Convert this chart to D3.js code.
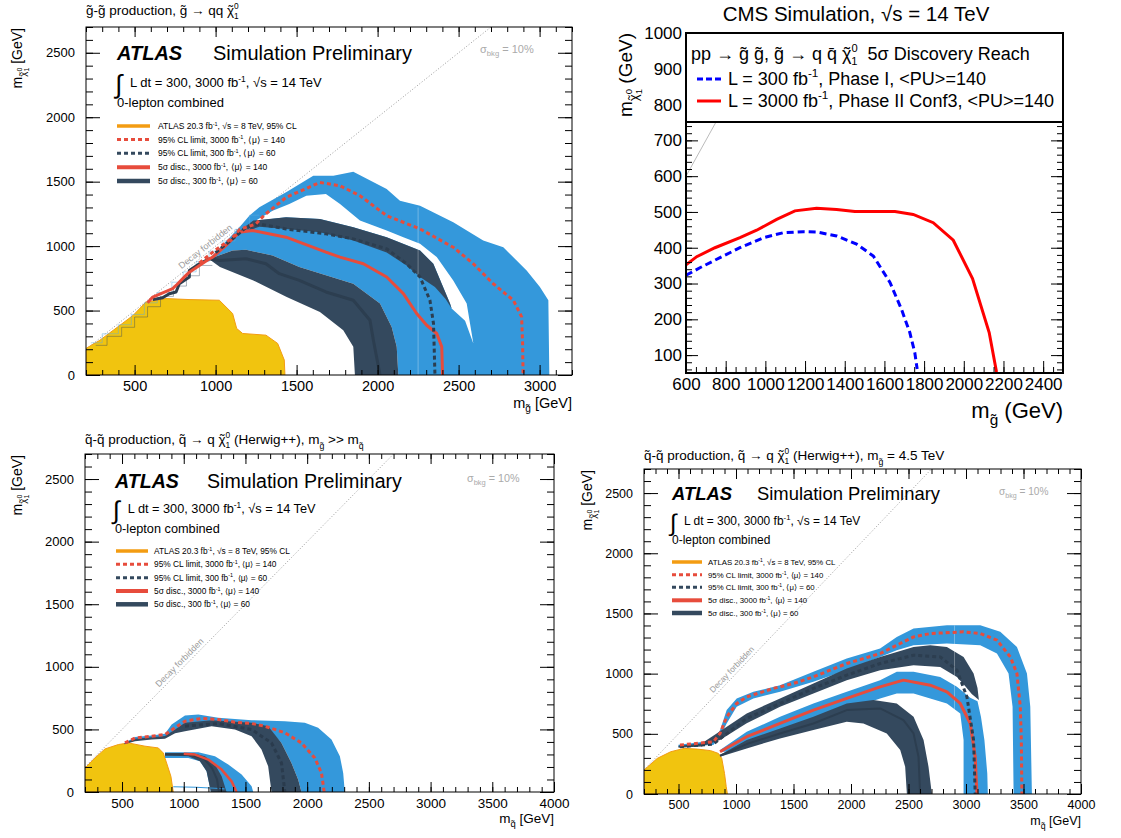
<!DOCTYPE html>
<html>
<head>
<meta charset="utf-8">
<script src="https://cdn.jsdelivr.net/npm/d3@7"></script>
<style>
  body { margin: 0; background: #fff; }
  svg { display: block; }
  text { font-family: "Liberation Sans", Arial, Helvetica, sans-serif; }
</style>
</head>
<body>
<svg id="chart" width="1121" height="838"></svg>
<script>
// ---------- top-left: gluino pair production (ATLAS) ----------
const tlXTicks = [500, 1000, 1500, 2000, 2500, 3000]
const tlYTicks = [0, 500, 1000, 1500, 2000, 2500]
const tlYellow = [[200,0],[200,206],[286,270],[410,386],[492,464],[570,566],[694,593],[842,585],[1023,580],[1105,477],[1130,361],[1167,322],[1311,309],[1383,245],[1424,116],[1428,0]]
const tlBlueUpper = [[1150,1150],[1208,1236],[1270,1301],[1435,1417],[1603,1546],[1727,1546],[1850,1577],[2056,1443],[2138,1352],[2262,1314],[2467,1185],[2652,1043],[2776,991],[2920,811],[3002,682],[3054,580],[3060,0]]
const tlNavy5Upper = [[960,900],[1105,966],[1188,971],[1352,927],[1517,837],[1681,773],[1850,708],[2015,554],[2087,373],[2118,219],[2128,0]]
const tlNavy5Lower = [[980,880],[1027,837],[1233,734],[1439,605],[1644,489],[1788,348],[1850,219],[1860,0]]
const tlGap = [[1249,1198],[1352,1275],[1455,1327],[1560,1390],[1681,1404],[1768,1327],[1891,1198],[2056,1121],[2159,1069],[2262,1018],[2365,915],[2467,734],[2550,554],[2591,245],[2540,420],[2457,515],[2447,554],[2344,863],[2262,966],[2056,1069],[1850,1146],[1644,1211],[1435,1223],[1300,1205]]
const tlNavy95Upper = [[1150,1121],[1233,1198],[1435,1223],[1644,1211],[1850,1146],[2056,1069],[2262,966],[2344,863],[2447,554],[2457,515]]
const tlNavy95Lower = [[1130,1090],[1270,1150],[1435,1133],[1644,1108],[1850,1043],[2056,950],[2179,850],[2262,760],[2354,682],[2420,590],[2457,515]]
const tlStepBlue = [[230,250],[300,250],[300,320],[400,320],[400,390],[480,390],[480,470],[560,470],[560,560],[640,560],[640,640],[730,640],[730,720],[800,720],[800,800],[880,800],[880,880],[960,880],[960,960],[1040,960],[1040,1040],[1120,1040],[1120,1130],[1210,1130],[1210,1240],[1270,1240]]
const tlStepNavy = [[260,230],[330,230],[330,300],[420,300],[420,370],[500,370],[500,450],[580,450],[580,530],[660,530],[660,610],[740,610],[740,690],[820,690],[820,770],[900,770],[900,850],[980,850]]
const tlRedDash = [[900,870],[1000,970],[1100,1060],[1150,1130],[1249,1172],[1300,1240],[1435,1378],[1644,1494],[1768,1468],[1891,1391],[2056,1236],[2262,1133],[2467,991],[2591,863],[2714,708],[2838,580],[2889,451],[2895,245],[2898,0]]
const tlNavyDash = [[1000,950],[1105,1056],[1188,1146],[1270,1172],[1435,1133],[1681,1095],[1850,1056],[2056,979],[2179,863],[2262,760],[2323,580],[2345,400],[2354,0]]
const tlRedSolid = [[580,560],[612,605],[735,670],[760,700],[817,773],[840,800],[960,900],[982,915],[1064,1005],[1146,1108],[1229,1121],[1435,1069],[1681,953],[1768,915],[1912,863],[2056,760],[2159,631],[2241,477],[2303,386],[2365,322],[2396,219],[2401,0]]
const tlNavySolid = [[612,585],[673,600],[714,631],[756,644],[776,708],[838,760],[838,811],[900,863],[961,902],[1023,889],[1188,902],[1311,863],[1393,786],[1517,734],[1681,644],[1850,580],[1953,425],[1974,270],[2015,0]]
const tlSeam = [[2250,0],[2250,1300]]

// ---------- bottom-left: squark pair, decoupled gluino ----------
const sqXTicks = [500, 1000, 1500, 2000, 2500, 3000, 3500, 4000]
const sqYTicks = [0, 500, 1000, 1500, 2000, 2500]
const blYellow = [[200,0],[200,192],[281,272],[362,344],[470,379],[551,392],[686,366],[794,352],[834,312],[861,232],[896,125],[915,0]]
const blBlue95Upper = [[520,392],[605,440],[740,452],[848,465],[902,539],[1010,611],[1118,619],[1280,593],[1550,574],[1819,566],[1981,553],[2089,513],[2197,419],[2265,286],[2292,152],[2305,0]]
const blBlue95Lower = [[520,385],[605,415],[740,428],[848,436],[930,486],[1010,530],[1226,560],[1550,540],[1684,510],[1792,392],[1873,232],[1927,99],[1954,0]]
const blNavy95Upper = [[520,390],[605,425],[740,437],[848,447],[930,500],[1010,553],[1226,574],[1550,553],[1684,526],[1792,392],[1873,232],[1927,99],[1954,0]]
const blNavy95Lower = [[520,382],[605,405],[740,420],[848,425],[930,470],[1010,486],[1226,526],[1415,499],[1550,446],[1630,339],[1684,205],[1711,0]]
const blRedDash = [[524,392],[605,432],[740,446],[848,459],[929,513],[1010,566],[1145,587],[1280,579],[1415,558],[1550,547],[1657,526],[1819,473],[1954,392],[2062,272],[2116,152],[2138,0]]
const blNavyDash = [[1010,526],[1280,547],[1550,499],[1711,392],[1792,232],[1819,0]]
const blBlue5Upper = [[848,318],[1118,318],[1253,286],[1361,219],[1469,139],[1550,45],[1563,0]]
const blBlue5Lower = [[848,272],[1037,272],[1131,246],[1185,165],[1220,0]]
const blNavy5Upper = [[848,312],[1064,312],[1172,286],[1253,219],[1307,125],[1347,0]]
const blNavy5Lower = [[848,291],[1037,286],[1131,246],[1185,165],[1220,0]]
const blRedSolid = [[1000,305],[1091,299],[1199,259],[1307,179],[1388,85],[1428,0]]
const blNavySolid = [[848,300],[1050,300],[1160,270],[1230,190],[1270,100],[1285,0]]
const blBlueThin = [[915,42],[1100,38],[1253,30],[1330,25]]

// ---------- bottom-right: squark pair, m(gluino) = 4.5 TeV ----------
const brYellow = [[200,0],[200,199],[316,296],[432,351],[548,379],[664,373],[780,360],[847,337],[876,296],[900,171],[915,61],[925,0]]
const brBlue95Upper = [[500,410],[650,425],[800,445],[861,530],[919,697],[1006,794],[1151,849],[1383,904],[1673,1015],[1963,1126],[2253,1208],[2398,1305],[2544,1374],[2834,1402],[3124,1402],[3298,1347],[3443,1222],[3530,1001],[3559,724],[3573,0]]
const brBlue95Lower = [[500,390],[650,400],[803,407],[861,476],[919,586],[1006,724],[1151,794],[1383,849],[1673,932],[1963,1029],[2253,1139],[2398,1195],[2544,1236],[2834,1250],[3124,1236],[3269,1167],[3370,1001],[3405,724],[3414,0]]
const brNavy95Upper = [[500,400],[700,420],[832,503],[1093,669],[1383,794],[1673,918],[1963,1043],[2253,1139],[2544,1222],[2689,1236],[2834,1222],[2979,1139],[3066,1001],[3100,880],[3112,780]]
const brNavy95Lower = [[500,385],[700,395],[861,448],[1093,587],[1383,724],[1673,835],[1963,946],[2253,1029],[2544,1070],[2776,1056],[2921,973],[2990,900],[3050,830],[3112,780]]
const brRedDash = [[513,407],[803,434],[861,503],[919,641],[1006,752],[1093,807],[1325,877],[1499,918],[1673,973],[1963,1084],[2253,1167],[2398,1236],[2544,1305],[2689,1333],[2979,1347],[3124,1333],[3269,1278],[3385,1139],[3443,1001],[3472,724],[3481,448],[3486,0]]
const brNavyDash = [[513,393],[803,415],[1093,628],[1383,752],[1673,877],[1963,987],[2253,1084],[2544,1153],[2776,1139],[2921,1029],[3008,807],[3066,448],[3080,0]]
const brBlue5Upper = [[861,365],[1093,517],[1383,641],[1673,752],[1963,849],[2253,946],[2398,1015],[2544,1015],[2776,973],[2921,890],[3037,800],[3100,770],[3130,641],[3160,448],[3185,171],[3190,0]]
const brBlue5Lower = [[861,351],[919,351],[1093,434],[1383,531],[1673,614],[1963,697],[2253,794],[2398,835],[2544,835],[2834,752],[2950,669],[2979,448],[2979,0]]
const brRedSolid = [[861,351],[1093,476],[1383,586],[1673,697],[1963,794],[2253,890],[2456,946],[2689,904],[2834,849],[2950,752],[3037,586],[3080,310],[3095,0]]
const brNavy5Upper = [[861,324],[1093,448],[1383,545],[1673,641],[1963,752],[2195,780],[2398,752],[2544,641],[2631,448],[2674,227],[2703,0]]
const brNavy5Lower = [[861,310],[1093,379],[1383,462],[1673,531],[1963,600],[2108,586],[2311,503],[2428,365],[2471,227],[2486,0]]
const brNavySolid = [[861,318],[1093,415],[1383,503],[1673,586],[1963,697],[2253,711],[2456,614],[2544,503],[2587,310],[2601,0]]
const brSeam = [[2900,700],[2900,1400]]

// ---------- top-right: CMS 5 sigma discovery reach ----------
const cmsXTicks = [600, 800, 1000, 1200, 1400, 1600, 1800, 2000, 2200, 2400]
const cmsYTicks = [100, 200, 300, 400, 500, 600, 700, 800, 900, 1000]
const cmsPhase2 = [[600,352],[654,375],[746,400],[872,428],[956,449],[1057,479],[1149,503],[1258,510],[1359,507],[1451,501],[1544,501],[1653,501],[1745,493],[1846,470],[1947,421],[2044,314],[2128,163],[2165,53]]
const cmsPhase1 = [[600,323],[670,344],[788,377],[872,400],[990,428],[1090,442],[1191,445],[1258,444],[1359,433],[1460,410],[1544,377],[1628,303],[1686,228],[1728,163],[1753,107],[1765,61]]
const cmsDiagonal = [[600,600],[900,900]]

const diagonal = [[200,200],[2700,2700]]

const col = {
  yellow: '#f1c40f', orange: '#f39c12', blue: '#3498db',
  navy: '#34495e', navyDark: '#2c3e50', red: '#e74c3c', grey: '#9a9a9a'
}

const svg = d3.select('#chart')
const defs = svg.append('defs')

// rich text: segments [text, baseline offset (em), size factor, dx (em)]
function rich(sel, segs, fs) {
  let cur = 0
  segs.forEach(s => {
    const str = s[0], off = s[1] || 0, k = s[2] || 1, dx = s[3] || 0
    sel.append('tspan')
      .attr('dy', (off - cur) * fs)
      .attr('dx', dx * fs)
      .attr('font-size', fs * k)
      .text(str)
    cur = off
  })
  return sel
}
// neutralino symbol with a spacing tilde placed back over the chi
const chiSegs = [['χ'], ['˜', 0, 1, -0.42], ['0', -0.45, 0.62, 0.08], ['1', 0.3, 0.62, -0.35]]
const chiSub = [['χ', 0.3, 0.7], ['˜', 0.3, 0.7, -0.29], ['0', 0.0, 0.5, 0.06], ['1', 0.5, 0.5, -0.28]]
const fbInv = (a, b) => [[a], ['-1', -0.4, 0.65], [b, 0]]

const legendRows = [
  fbInv('ATLAS 20.3 fb', ', √s = 8 TeV, 95% CL'),
  fbInv('95% CL limit, 3000 fb', ', ⟨μ⟩ = 140'),
  fbInv('95% CL limit, 300 fb', ', ⟨μ⟩ = 60'),
  fbInv('5σ disc., 3000 fb', ', ⟨μ⟩ = 140'),
  fbInv('5σ disc., 300 fb', ', ⟨μ⟩ = 60')
]
const legendStyle = [
  { stroke: col.orange, w: 3.5 },
  { stroke: col.red, w: 3, dash: '4,3' },
  { stroke: col.navy, w: 3, dash: '4,3' },
  { stroke: col.red, w: 4 },
  { stroke: col.navy, w: 4.5 }
]

function ticks(g, axis, pos, vals, len, labels, fs, pad) {
  const a = axis.tickValues(vals).tickSize(-len).tickPadding(pad || 6)
    .tickFormat(labels ? d3.format('d') : '')
  const sel = g.append('g').attr('transform', pos).call(a)
  sel.select('.domain').remove()
  sel.selectAll('line').attr('stroke', '#000')
  sel.selectAll('text').attr('font-size', fs).attr('fill', '#000')
    .attr('font-family', '"Liberation Sans", Arial, sans-serif')
  return sel
}

function atlasPanel(p) {
  const b = p.box
  const x = d3.scaleLinear().domain(p.xDom).range([b.l, b.r])
  const y = d3.scaleLinear().domain(p.yDom).range([b.b, b.t])
  const line = d3.line().x(d => x(d[0])).y(d => y(d[1]))
  const g = svg.append('g')
  defs.append('clipPath').attr('id', 'clip-' + p.id)
    .append('rect').attr('x', b.l).attr('y', b.t).attr('width', b.r - b.l).attr('height', b.b - b.t)
  const plot = g.append('g').attr('clip-path', `url(#clip-${p.id})`)

  plot.append('path').attr('d', line(diagonal)).attr('fill', 'none')
    .attr('stroke', col.grey).attr('stroke-width', 1).attr('stroke-dasharray', '1,2')

  p.layers.forEach(L => {
    if (L.fill) {
      const pts = L.lower ? L.upper.concat(L.lower.slice().reverse()) : L.upper
      plot.append('path').attr('d', line(pts) + 'Z').attr('fill', L.fill)
        .attr('stroke', L.edge || 'none').attr('stroke-width', L.edgeW || 1)
    } else {
      plot.append('path').attr('d', line(L.pts)).attr('fill', 'none')
        .attr('stroke', L.stroke).attr('stroke-width', L.w)
        .attr('stroke-opacity', L.op || 1)
        .attr('stroke-dasharray', L.dash || null)
        .attr('stroke-linejoin', 'round')
    }
  })

  // decay forbidden label along the diagonal
  const dp = p.decayAt
  const ang = Math.atan2(y(dp + 100) - y(dp), x(dp + 100) - x(dp)) * 180 / Math.PI
  plot.append('text').attr('transform', `translate(${x(dp)},${y(dp)}) rotate(${ang})`)
    .attr('dy', -3).attr('text-anchor', 'middle').attr('font-size', 9 * p.k)
    .attr('fill', col.grey).text('Decay forbidden')

  // axes, ROOT style inward ticks
  const w = b.r - b.l, h = b.b - b.t
  const xMinor = d3.range(p.xDom[0], p.xDom[1] + 1, 100)
  const yMinor = d3.range(p.yDom[0], p.yDom[1] + 1, 100)
  ticks(g, d3.axisBottom(x), `translate(0,${b.b})`, xMinor, 5, false)
  ticks(g, d3.axisTop(x), `translate(0,${b.t})`, xMinor, 5, false)
  ticks(g, d3.axisLeft(y), `translate(${b.l},0)`, yMinor, 7, false)
  ticks(g, d3.axisRight(y), `translate(${b.r},0)`, yMinor, 7, false)
  ticks(g, d3.axisBottom(x), `translate(0,${b.b})`, p.xTicks, 10, true, p.xfs, 6)
  ticks(g, d3.axisTop(x), `translate(0,${b.t})`, p.xTicks, 10, false)
  ticks(g, d3.axisLeft(y), `translate(${b.l},0)`, p.yTicks, 14, p.yLabels, p.yfs, 11)
  ticks(g, d3.axisRight(y), `translate(${b.r},0)`, p.yTicks, 14, false)
  g.append('rect').attr('x', b.l).attr('y', b.t).attr('width', w).attr('height', h)
    .attr('fill', 'none').attr('stroke', '#000').attr('stroke-width', 1)

  // texts
  rich(g.append('text').attr('x', b.l).attr('y', p.titleY), p.title, 13.5)
  g.append('text').attr('x', p.tx).attr('y', p.atlasY).attr('font-size', 20 * p.k)
    .attr('font-weight', 'bold').attr('font-style', 'italic').text('ATLAS')
  g.append('text').attr('x', p.simX).attr('y', p.atlasY).attr('font-size', 20 * p.k)
    .text('Simulation Preliminary')
  g.append('text').attr('x', p.tx - 2).attr('y', p.lumiY + 6).attr('font-size', 26 * p.k)
    .attr('font-weight', 300).text('∫')
  rich(g.append('text').attr('x', p.tx + 13 * p.k).attr('y', p.lumiY),
    fbInv('L dt = 300, 3000 fb', ', √s = 14 TeV'), 13 * p.k)
  g.append('text').attr('x', p.tx).attr('y', p.lepY).attr('font-size', 13 * p.k).text('0-lepton combined')
  rich(g.append('text').attr('x', p.sigX).attr('y', p.sigY).attr('fill', '#aaa'),
    [['σ'], ['bkg', 0.3, 0.7], [' = 10%', 0]], 11 * p.k)

  legendRows.forEach((row, i) => {
    const ly = p.legY[i], st = legendStyle[i]
    g.append('line').attr('x1', p.legX[0]).attr('x2', p.legX[1]).attr('y1', ly).attr('y2', ly)
      .attr('stroke', st.stroke).attr('stroke-width', st.w).attr('stroke-dasharray', st.dash || null)
    rich(g.append('text').attr('x', p.legX[2]).attr('y', ly + 3), row, 8.5 * p.k)
  })

  rich(g.append('text').attr('x', b.r).attr('y', p.xLabY).attr('text-anchor', 'end'),
    [['m'], [p.xSym, 0.3, 0.7], [' [GeV]', 0]], p.xfs)
  rich(g.append('text').attr('transform', `translate(${p.yLabX},${b.t + 1}) rotate(-90)`)
    .attr('text-anchor', 'end'), [['m']].concat(chiSub).concat([[' [GeV]', 0]]), 14)
}

atlasPanel({
  id: 'tl', box: { l: 86, t: 27, r: 572, b: 375 }, xDom: [200, 3200], yDom: [0, 2700],
  xTicks: tlXTicks, yTicks: tlYTicks, yLabels: true, xfs: 14.5, yfs: 13, k: 1,
  title: [['g̃-g̃ production, g̃ → qq ']].concat(chiSegs), titleY: 15,
  tx: 117, simX: 213, atlasY: 60, lumiY: 87, lepY: 107, sigX: 480, sigY: 53,
  legX: [117, 150, 158], legY: [126, 139.5, 153.3, 167.3, 181],
  xSym: 'g̃', xLabY: 408, yLabX: 22, decayAt: 960,
  layers: [
    { upper: tlBlueUpper, lower: tlNavy5Upper, fill: col.blue },
    { upper: tlGap, fill: '#fff' },
    { upper: tlNavy95Upper, lower: tlNavy95Lower, fill: col.navy },
    { upper: tlNavy5Upper, lower: tlNavy5Lower, fill: col.navy },
    { pts: tlSeam, stroke: '#fff', w: 1, op: 0.3 },
    { upper: tlYellow, fill: col.yellow, edge: col.orange },
    { pts: tlStepBlue, stroke: '#5dade2', w: 0.6, op: 0.8 },
    { pts: tlStepNavy, stroke: col.navy, w: 0.6, op: 0.7 },
    { pts: tlNavySolid, stroke: col.navyDark, w: 3 },
    { pts: tlRedSolid, stroke: col.red, w: 3 },
    { pts: tlNavyDash, stroke: col.navyDark, w: 3, dash: '4,3' },
    { pts: tlRedDash, stroke: col.red, w: 3, dash: '4,3' }
  ]
})

atlasPanel({
  id: 'bl', box: { l: 85, t: 454, r: 554, b: 792 }, xDom: [200, 4000], yDom: [0, 2700],
  xTicks: sqXTicks, yTicks: sqYTicks, yLabels: true, xfs: 13.5, yfs: 13, k: 0.98,
  title: [['q̃-q̃ production, q̃ → q ']].concat(chiSegs).concat([[' (Herwig++), m', 0], ['g̃', 0.35, 0.65], [' >> m', 0], ['q̃', 0.35, 0.65]]),
  titleY: 444,
  tx: 115, simX: 207, atlasY: 488, lumiY: 513, lepY: 533, sigX: 467, sigY: 482,
  legX: [116, 148, 154], legY: [551, 564.3, 577.7, 591, 604.3],
  xSym: 'q̃', xLabY: 823, yLabX: 22, decayAt: 1000,
  layers: [
    { upper: blYellow, fill: col.yellow, edge: col.orange },
    { upper: blBlue95Upper, lower: blBlue95Lower, fill: col.blue },
    { upper: blNavy95Upper, lower: blNavy95Lower, fill: col.navy },
    { upper: blBlue5Upper, lower: blBlue5Lower, fill: col.blue },
    { upper: blNavy5Upper, lower: blNavy5Lower, fill: col.navy },
    { pts: blBlueThin, stroke: col.blue, w: 1.2 },
    { pts: blNavySolid, stroke: col.navyDark, w: 2 },
    { pts: blRedSolid, stroke: col.red, w: 2.5 },
    { pts: blNavyDash, stroke: '#2a3b4d', w: 3, dash: '4,3' },
    { pts: blRedDash, stroke: col.red, w: 3, dash: '4,3' }
  ]
})

atlasPanel({
  id: 'br', box: { l: 644, t: 469, r: 1081, b: 794 }, xDom: [200, 4000], yDom: [0, 2700],
  xTicks: sqXTicks, yTicks: sqYTicks, yLabels: true, xfs: 12.5, yfs: 12.5, k: 0.92,
  title: [['q̃-q̃ production, q̃ → q ']].concat(chiSegs).concat([[' (Herwig++), m', 0], ['g̃', 0.35, 0.65], [' = 4.5 TeV', 0]]),
  titleY: 460,
  tx: 672, simX: 757, atlasY: 500, lumiY: 525, lepY: 544, sigX: 999, sigY: 495,
  legX: [672, 702, 708], legY: [562, 574.7, 587.3, 600.3, 613],
  xSym: 'q̃', xLabY: 825, yLabX: 592, decayAt: 1000,
  layers: [
    { upper: brBlue95Upper, lower: brBlue95Lower, fill: col.blue },
    { upper: brBlue5Upper, lower: brBlue5Lower, fill: col.blue },
    { upper: brNavy95Upper, lower: brNavy95Lower, fill: col.navy },
    { upper: brNavy5Upper, lower: brNavy5Lower, fill: col.navy },
    { pts: brSeam, stroke: '#fff', w: 1, op: 0.3 },
    { upper: brYellow, fill: col.yellow, edge: col.orange },
    { pts: brNavySolid, stroke: col.navyDark, w: 2 },
    { pts: brRedSolid, stroke: col.red, w: 3 },
    { pts: brNavyDash, stroke: col.navyDark, w: 3, dash: '4,3' },
    { pts: brRedDash, stroke: col.red, w: 3, dash: '4,3' }
  ]
})

// ---------- CMS panel ----------
;(function () {
  const b = { l: 686, t: 33, r: 1063, b: 373 }
  const x = d3.scaleLinear().domain([600, 2500]).range([b.l, b.r])
  const y = d3.scaleLinear().domain([50, 1000]).range([b.b, b.t])
  const line = d3.line().x(d => x(d[0])).y(d => y(d[1]))
  const g = svg.append('g')
  defs.append('clipPath').attr('id', 'clip-cms')
    .append('rect').attr('x', b.l).attr('y', b.t).attr('width', b.r - b.l).attr('height', b.b - b.t)
  const plot = g.append('g').attr('clip-path', 'url(#clip-cms)')

  plot.append('path').attr('d', line(cmsDiagonal)).attr('fill', 'none').attr('stroke', '#bbb').attr('stroke-width', 1)
  plot.append('path').attr('d', line(cmsPhase1)).attr('fill', 'none').attr('stroke', '#0000ff')
    .attr('stroke-width', 3).attr('stroke-dasharray', '7,4')
  plot.append('path').attr('d', line(cmsPhase2)).attr('fill', 'none').attr('stroke', '#ff0000')
    .attr('stroke-width', 3)

  ticks(g, d3.axisBottom(x), `translate(0,${b.b})`, d3.range(600, 2501, 50), 6, false)
  ticks(g, d3.axisBottom(x), `translate(0,${b.b})`, cmsXTicks, 12, true, 17, 5)
  ticks(g, d3.axisLeft(y), `translate(${b.l},0)`, d3.range(60, 1001, 20), 6, false)
  ticks(g, d3.axisLeft(y), `translate(${b.l},0)`, cmsYTicks, 12, true, 17, 4)
  ticks(g, d3.axisRight(y), `translate(${b.r},0)`, d3.range(60, 1001, 20), 6, false)
  ticks(g, d3.axisRight(y), `translate(${b.r},0)`, cmsYTicks, 12, false)
  g.append('rect').attr('x', b.l).attr('y', b.t).attr('width', b.r - b.l).attr('height', b.b - b.t)
    .attr('fill', 'none').attr('stroke', '#000').attr('stroke-width', 2)

  // legend box
  g.append('rect').attr('x', b.l).attr('y', b.t).attr('width', b.r - b.l).attr('height', 89)
    .attr('fill', '#fff').attr('stroke', '#000').attr('stroke-width', 2)
  rich(g.append('text').attr('x', 691).attr('y', 60),
    [['pp → g̃ g̃, g̃ → q q̄ ']].concat(chiSegs).concat([['\u00a0\u00a05σ Discovery Reach', 0]]), 18)
  g.append('line').attr('x1', 697).attr('x2', 721).attr('y1', 79).attr('y2', 79)
    .attr('stroke', '#0000ff').attr('stroke-width', 3).attr('stroke-dasharray', '6,3')
  rich(g.append('text').attr('x', 728).attr('y', 84.5), fbInv('L = 300 fb', ', Phase I, <PU>=140'), 18)
  g.append('line').attr('x1', 697).attr('x2', 721).attr('y1', 101).attr('y2', 101)
    .attr('stroke', '#ff0000').attr('stroke-width', 3)
  rich(g.append('text').attr('x', 728).attr('y', 106.5), fbInv('L = 3000 fb', ', Phase II Conf3, <PU>=140'), 18)

  rich(g.append('text').attr('x', 856).attr('y', 21).attr('text-anchor', 'middle'),
    [['CMS Simulation, √s = 14 TeV']], 20.5)
  rich(g.append('text').attr('x', b.r).attr('y', 418).attr('text-anchor', 'end'),
    [['m'], ['g̃', 0.3, 0.7], [' (GeV)', 0]], 22)
  rich(g.append('text').attr('transform', `translate(632,${b.t}) rotate(-90)`).attr('text-anchor', 'end'),
    [['m']].concat(chiSub).concat([[' (GeV)', 0]]), 19)
})()
</script>
</body>
</html>
